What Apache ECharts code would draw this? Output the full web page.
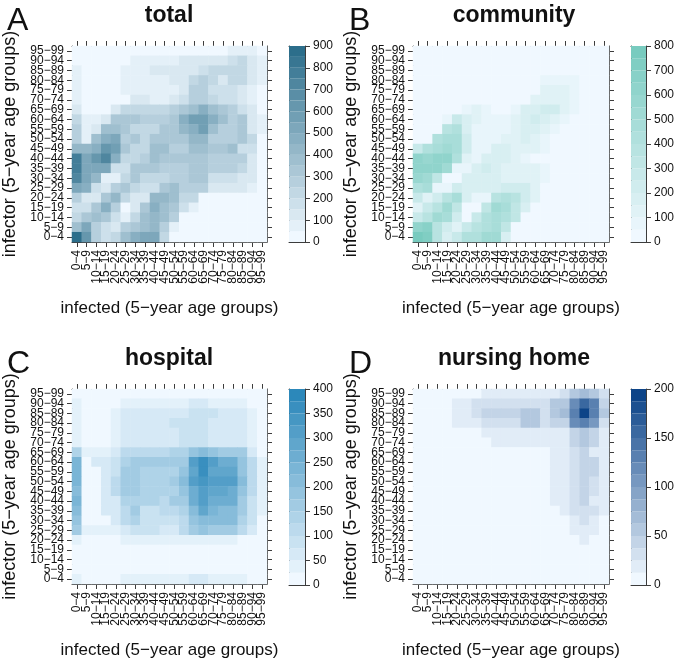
<!DOCTYPE html>
<html>
<head>
<meta charset="utf-8">
<style>html,body{margin:0;padding:0;background:#fff}#c{width:677px;height:660px}</style>
<script src="https://cdn.jsdelivr.net/npm/echarts@6/dist/echarts.min.js"></script>
</head>
<body>
<div id="c"></div>
<script>
const ageGroups = ["0−4","5−9","10−14","15−19","20−24","25−29","30−34","35−39","40−44","45−49","50−54","55−59","60−64","65−69","70−74","75−79","80−84","85−89","90−94","95−99"];

// rows run from 95-99 (top) down to 0-4 (bottom); columns from 0-4 to 95-99
const totalValues = [
[0,0,0,0,0,10,10,10,10,10,10,10,10,10,10,10,60,60,50,20],
[0,0,0,0,0,20,70,70,70,70,70,130,130,130,130,130,170,220,130,50],
[80,0,0,0,0,60,70,70,100,100,100,130,130,150,200,200,230,230,130,50],
[80,0,0,0,0,60,60,80,80,80,130,130,200,260,200,130,220,220,130,50],
[80,0,0,0,0,50,60,80,80,80,80,110,250,250,150,150,150,110,90,30],
[70,0,0,0,0,40,130,130,90,90,110,190,250,250,200,150,150,130,50,20],
[110,0,0,0,130,240,240,220,220,220,260,340,390,450,350,320,250,190,140,40],
[240,80,60,130,330,330,330,260,260,260,310,470,590,550,450,390,250,300,140,50],
[260,60,110,380,380,310,240,240,240,310,310,400,470,560,390,280,250,300,140,70],
[260,90,390,480,510,280,310,240,320,320,330,340,420,420,280,280,280,300,200,20],
[430,430,470,620,590,320,220,220,350,350,280,280,390,390,300,300,360,190,150,10],
[760,540,600,700,450,240,240,260,350,330,330,330,330,330,280,280,280,250,130,10],
[760,540,540,540,180,170,300,300,300,250,250,250,320,320,270,270,270,210,120,10],
[720,500,410,60,80,220,300,230,230,200,250,250,320,320,180,150,150,110,120,10],
[540,450,150,140,250,300,210,180,180,320,350,250,270,260,140,140,140,140,60,0],
[250,120,140,340,430,210,100,100,410,440,380,230,240,30,30,30,30,30,0,0],
[190,180,310,450,250,40,100,340,480,390,300,180,50,5,5,5,5,5,5,5],
[210,310,380,310,160,50,230,350,400,380,250,40,5,5,5,5,5,5,5,5],
[390,500,280,180,140,270,310,370,410,270,60,5,5,5,5,5,5,5,5,5],
[860,600,280,190,240,380,450,520,500,230,0,0,40,40,0,0,0,0,0,0]
];
const communityValues = [
[0,0,0,0,0,0,0,0,0,0,0,0,0,0,0,0,0,0,0,0],
[0,0,0,0,0,0,0,0,0,0,0,0,0,0,0,0,0,0,0,0],
[0,0,0,0,0,0,0,0,0,0,0,0,0,0,30,30,30,0,0,0],
[0,0,0,0,0,0,0,0,0,0,0,0,30,80,95,95,60,30,0,0],
[0,0,0,0,0,0,0,0,25,0,0,0,45,110,110,110,80,30,0,0],
[0,0,0,0,0,0,45,45,45,25,25,45,110,140,140,125,95,45,0,0],
[0,0,0,0,0,95,110,60,25,25,95,155,170,200,200,125,95,0,0,0],
[0,0,0,60,290,185,110,60,60,95,125,170,200,185,140,95,0,0,0,0],
[0,0,45,370,400,170,95,80,80,95,125,155,155,140,95,45,0,0,0,0],
[0,15,400,460,480,215,95,80,80,125,140,155,140,80,30,0,0,0,0,0],
[260,400,490,520,490,200,95,95,155,155,125,140,140,80,25,0,0,0,0,0],
[610,550,610,610,430,110,80,155,185,185,110,95,45,0,0,0,0,0,0,0],
[610,600,600,540,95,80,155,200,155,125,125,125,125,80,45,0,0,0,0,0],
[560,540,340,30,30,155,170,170,170,125,125,125,125,95,45,0,0,0,0,0],
[430,460,60,60,200,185,185,185,185,230,230,230,125,30,0,0,0,0,0,0],
[260,110,230,350,460,155,80,80,370,400,350,215,125,0,0,0,0,0,0,0],
[125,260,370,530,310,45,0,340,520,460,340,155,0,0,0,0,0,0,0,0],
[260,380,500,460,200,30,260,410,460,440,320,0,0,0,0,0,0,0,0,0],
[640,650,370,200,110,290,350,440,470,320,30,0,0,0,0,0,0,0,0,0],
[760,700,350,185,260,410,440,520,530,185,0,0,0,0,0,0,0,0,0,0]
];
const hospitalValues = [
[5,5,5,5,5,5,5,5,5,5,5,5,5,5,5,5,5,5,5,5],
[40,5,5,5,5,40,40,40,40,40,40,40,70,70,40,40,40,40,5,5],
[45,5,5,5,30,55,55,55,55,55,55,55,80,80,80,50,50,50,30,5],
[45,5,5,5,30,55,55,55,55,55,80,80,95,95,65,65,65,50,30,5],
[45,5,5,5,30,55,55,55,55,55,55,80,80,90,65,65,65,50,30,5],
[45,5,5,5,30,55,55,55,55,55,55,80,80,90,65,65,65,50,30,5],
[130,40,40,40,60,110,110,110,110,110,130,130,180,200,190,160,160,170,70,15],
[240,15,70,70,80,130,150,160,160,160,160,170,300,350,300,270,270,180,110,30],
[240,15,20,50,90,150,160,125,125,125,140,180,290,370,280,280,280,190,120,30],
[240,15,20,60,100,150,170,130,130,130,150,200,310,340,300,300,300,200,120,30],
[220,15,20,60,100,160,170,135,135,135,140,180,250,320,290,290,270,190,100,30],
[230,15,20,50,70,130,140,130,130,100,150,170,270,310,270,270,270,170,90,30],
[210,15,20,50,70,120,150,80,80,100,100,140,210,280,240,210,220,150,90,30],
[190,15,15,15,50,110,140,90,90,90,90,120,180,220,200,200,200,130,80,5],
[150,25,25,25,45,70,80,80,80,60,70,110,160,190,170,170,170,100,60,5],
[45,5,5,5,5,30,30,30,30,30,30,30,40,40,40,40,40,20,5,5],
[5,5,5,5,5,5,5,5,5,5,5,5,5,5,5,5,5,5,5,5],
[5,5,5,5,5,5,5,5,5,5,5,5,5,5,5,5,5,5,5,5],
[5,5,5,5,5,5,5,5,5,5,5,5,5,5,5,5,5,5,5,5],
[40,5,5,5,5,25,25,25,25,25,25,25,50,50,25,25,25,25,5,5]
];
const nursingValues = [
[0,0,0,0,0,0,0,18,18,18,18,18,18,18,18,25,50,70,50,25],
[0,0,0,0,18,18,25,25,25,35,35,35,35,35,50,50,120,150,130,40],
[0,0,0,0,18,18,25,40,40,40,40,55,55,35,50,65,125,200,130,60],
[0,0,0,0,18,18,20,30,30,30,30,50,50,25,40,40,115,130,110,30],
[0,0,0,0,0,0,0,18,18,18,18,18,18,18,18,18,45,60,40,20],
[0,0,0,0,0,0,0,0,18,18,18,18,18,18,18,18,45,60,40,20],
[0,0,0,0,0,0,0,0,0,0,0,0,0,0,15,15,30,45,20,15],
[0,0,0,0,0,0,0,0,0,0,0,0,0,0,15,15,30,45,45,15],
[0,0,0,0,0,0,0,0,0,0,0,0,0,0,15,15,30,45,45,15],
[0,0,0,0,0,0,0,0,0,0,0,0,0,0,15,15,30,45,25,15],
[0,0,0,0,0,0,0,0,0,0,0,0,0,0,15,15,30,45,25,15],
[0,0,0,0,0,0,0,0,0,0,0,0,0,0,15,15,30,45,20,15],
[0,0,0,0,0,0,0,0,0,0,0,0,0,0,0,15,25,30,25,20],
[0,0,0,0,0,0,0,0,0,0,0,0,0,0,0,0,15,30,15,0],
[0,0,0,0,0,0,0,0,0,0,0,0,0,0,0,0,15,18,15,0],
[0,0,0,0,0,0,0,0,0,0,0,0,0,0,0,0,0,15,0,0],
[0,0,0,0,0,0,0,0,0,0,0,0,0,0,0,0,0,0,0,0],
[0,0,0,0,0,0,0,0,0,0,0,0,0,0,0,0,0,0,0,0],
[0,0,0,0,0,0,0,0,0,0,0,0,0,0,0,0,0,0,0,0],
[0,0,0,0,0,0,0,0,0,0,0,0,0,0,0,0,0,0,0,0]
];

const panelLetters = ["A","B","C","D"];
const panelTitles = ["total","community","hospital","nursing home"];
const panelValues = [totalValues, communityValues, hospitalValues, nursingValues];
const scaleMax = [900,800,400,200];
const scaleTick = [100,100,50,50];
const scaleLevels = [18,16,16,16];
const topColors = ["#2c6e8b","#78cbbf","#2c88ba","#0d4488"];
const lowColor = "#f0f8ff";
const xAxisTitle = "infected (5−year age groups)";
const yAxisTitle = "infector (5−year age groups)";

const FONT = "'Liberation Sans', Arial, sans-serif";
const LINE = "#3c3c3c";
const PW = 196, PH = 196;
const lefts = [71, 413], tops = [46, 389];
const opt = {backgroundColor:"#fff",animation:false,title:[],grid:[],xAxis:[],yAxis:[],visualMap:[],series:[]};

function catAxis(type, position, gi, showLabel, name) {
  const a = {
    type:"category", data:ageGroups, gridIndex:gi, position, boundaryGap:true,
    axisLine:{show:true,onZero:false,lineStyle:{color:LINE,width:1}},
    axisTick:{show:true,alignWithLabel:true,length:5,lineStyle:{color:LINE,width:1}},
    axisLabel:{show:showLabel,interval:0,hideOverlap:false,fontFamily:FONT,fontSize:12,color:"#111",margin:8},
    splitLine:{show:false}, splitArea:{show:false}
  };
  if (name) {
    a.name = name; a.nameLocation = "middle";
    a.nameTextStyle = {fontFamily:FONT,fontSize:type==="x"?17:18,color:"#111"};
    a.nameGap = type === "x" ? 58 : 53;
  }
  if (type === "x" && showLabel) { a.axisLabel.rotate = 90; }
  return a;
}

panelTitles.forEach((t, p) => {
  const col = p % 2, row = p < 2 ? 0 : 1;
  const L = lefts[col], T = tops[row];
  const gi = opt.grid.length;
  opt.grid.push({left:L, top:T, width:PW, height:PH});
  opt.grid.push({left:L+218, top:T, width:16, height:PH});

  opt.title.push({text:t, left:L+PW/2+(col?-2:-5), top:T-47, textAlign:"center",
    textStyle:{fontFamily:FONT,fontSize:23,fontWeight:"bold",color:"#111"}});
  opt.title.push({text:panelLetters[p], left:col?344:2, top:T-46, textAlign:"left",
    textStyle:{fontFamily:FONT,fontSize:32,fontWeight:"normal",color:"#111"}});

  const xi = opt.xAxis.length, yi = opt.yAxis.length;
  opt.xAxis.push(catAxis("x","bottom",gi,true,xAxisTitle));
  opt.xAxis.push(catAxis("x","top",gi,false));
  opt.yAxis.push(catAxis("y","left",gi,true,yAxisTitle));
  opt.yAxis.push(catAxis("y","right",gi,false));

  const n = scaleLevels[p], step = scaleMax[p]/n;
  const palette = [];
  for (let i=0;i<n;i++) palette.push(echarts.color.lerp(i/(n-1),[lowColor,topColors[p]]));

  const data = [];
  panelValues[p].forEach((r,ri)=>r.forEach((v,ci)=>data.push([ci,19-ri,v])));
  const si = opt.series.length;
  opt.series.push({type:"heatmap",xAxisIndex:xi,yAxisIndex:yi,data,progressive:0,
    itemStyle:{borderWidth:0},emphasis:{disabled:true}});
  opt.visualMap.push({type:"piecewise",show:false,seriesIndex:si,dimension:2,
    pieces:palette.map((c,i)=>({gte:i*step,lt:i===n-1?Infinity:(i+1)*step,color:c}))});

  // colour bar
  const xb = opt.xAxis.length, yb = opt.yAxis.length;
  const plain = {show:true,onZero:false,lineStyle:{color:LINE,width:1}};
  opt.xAxis.push({type:"value",gridIndex:gi+1,min:0,max:1,position:"bottom",axisLine:plain,axisTick:{show:false},axisLabel:{show:false},splitLine:{show:false}});
  opt.xAxis.push({type:"value",gridIndex:gi+1,min:0,max:1,position:"top",axisLine:plain,axisTick:{show:false},axisLabel:{show:false},splitLine:{show:false}});
  opt.yAxis.push({type:"value",gridIndex:gi+1,min:0,max:scaleMax[p],interval:scaleTick[p],position:"right",axisLine:plain,
    axisTick:{show:true,length:5,lineStyle:{color:LINE}},
    axisLabel:{fontFamily:FONT,fontSize:12,color:"#111",margin:8},splitLine:{show:false}});
  opt.yAxis.push({type:"value",gridIndex:gi+1,min:0,max:scaleMax[p],position:"left",axisLine:plain,axisTick:{show:false},axisLabel:{show:false},splitLine:{show:false}});
  opt.series.push({type:"custom",xAxisIndex:xb,yAxisIndex:yb,silent:true,clip:true,
    encode:{y:[0,1]},
    data:palette.map((c,i)=>({value:[i*step,(i+1)*step],itemStyle:{color:c}})),
    renderItem:(params,api)=>{
      const a = api.coord([0,api.value(0)]), b = api.coord([1,api.value(1)]);
      return {type:"rect",shape:{x:a[0],y:b[1],width:b[0]-a[0],height:a[1]-b[1]},style:{fill:palette[params.dataIndex]}};
    }});
});

echarts.init(document.getElementById("c"),null,{renderer:"canvas"}).setOption(opt);
</script>
</body>
</html>
